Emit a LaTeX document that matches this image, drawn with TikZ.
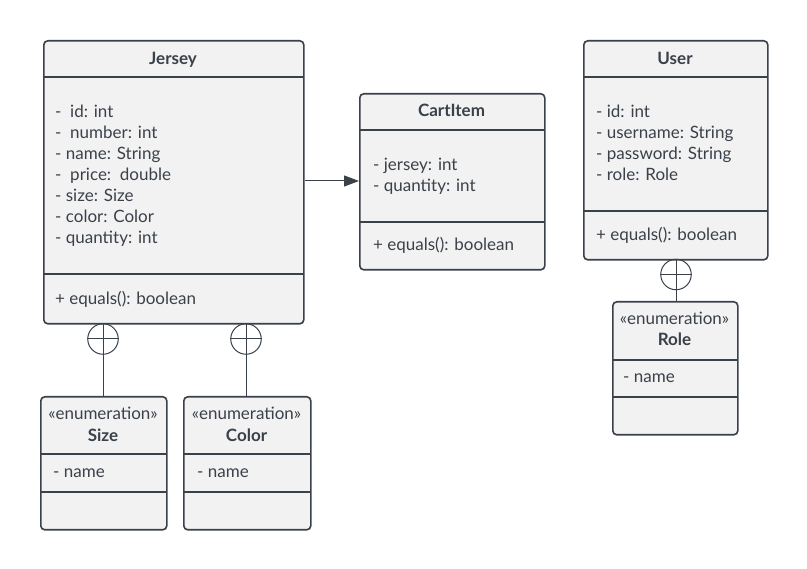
\documentclass[tikz,border=0pt]{standalone}
\usepackage{fontspec}
\setmainfont{Lato}
\usetikzlibrary{arrows.meta}
\definecolor{lineC}{HTML}{3A414A}
\definecolor{boxC}{HTML}{F2F2F2}
\definecolor{txtC}{HTML}{3A414A}
\begin{document}
\begin{tikzpicture}[x=1pt,y=-1pt,
  cls/.style={draw=lineC, fill=boxC, rounded corners=4pt, line width=1.6pt, anchor=north west, inner sep=0pt},
  sepl/.style={draw=lineC, line width=1.6pt},
  ttl/.style={font=\fontsize{17}{20}\selectfont\bfseries, text=txtC, inner sep=0pt, anchor=base},
  stereo/.style={font=\fontsize{17}{20}\selectfont, text=txtC, inner sep=0pt, anchor=base},
  attr/.style={font=\fontsize{17}{20}\selectfont, text=txtC, anchor=base west, inner sep=0pt},
  nest/.style={circle, draw=lineC, line width=1pt, minimum size=30.5pt, inner sep=0pt},
  link/.style={draw=lineC, line width=1pt}]
\useasboundingbox (0,0) rectangle (807,569);
\fill[white] (0,0) rectangle (807,569);

% Jersey
\node[cls, minimum width=260pt, minimum height=283pt] (jersey) at (43,40) {};
\draw[sepl] (43,77) -- (303,77);
\draw[sepl] (43,274) -- (303,274);
\node[ttl] (jt) at (173,65) {Jersey};
\node[attr] (j1) at (55,118) {-\ \ id: int};
\node[attr] (j2) at (55,139) {-\ \ number: int};
\node[attr] (j3) at (55,160) {- name: String};
\node[attr] (j4) at (55,181) {-\ \ price:\ \ double};
\node[attr] (j5) at (55,202) {- size: Size};
\node[attr] (j6) at (55,223) {- color: Color};
\node[attr] (j7) at (55,244) {- quantity: int};
\node[attr] (jm) at (55,305) {+ equals(): boolean};

% CartItem
\node[cls, minimum width=185pt, minimum height=176pt] (cart) at (359,93) {};
\draw[sepl] (359,130) -- (544,130);
\draw[sepl] (359,222) -- (544,222);
\node[ttl] (ct) at (451.5,117) {CartItem};
\node[attr] (c1) at (373,171) {- jersey: int};
\node[attr] (c2) at (373,192) {- quantity: int};
\node[attr] (cm) at (373,251) {+ equals(): boolean};

% User
\node[cls, minimum width=184pt, minimum height=219pt] (user) at (583,40) {};
\draw[sepl] (583,77) -- (767,77);
\draw[sepl] (583,211) -- (767,211);
\node[ttl] (ut) at (675,65) {User};
\node[attr] (u1) at (596,118) {- id: int};
\node[attr] (u2) at (596,139) {- username: String};
\node[attr] (u3) at (596,160) {- password: String};
\node[attr] (u4) at (596,181) {- role: Role};
\node[attr] (um) at (596,241) {+ equals(): boolean};

% Role
\node[cls, minimum width=125pt, minimum height=133pt] (role) at (612,301) {};
\draw[sepl] (612,360) -- (737,360);
\draw[sepl] (612,397) -- (737,397);
\node[stereo] (rs) at (674.5,325) {«enumeration»};
\node[ttl] (rt) at (674.5,346) {Role};
\node[attr] (r1) at (623,383) {- name};

% Size
\node[cls, minimum width=126pt, minimum height=133pt] (size) at (40,396) {};
\draw[sepl] (40,454) -- (166,454);
\draw[sepl] (40,492) -- (166,492);
\node[stereo] (ss) at (103,420) {«enumeration»};
\node[ttl] (st) at (103,442) {Size};
\node[attr] (s1) at (53,478) {- name};

% Color
\node[cls, minimum width=127pt, minimum height=133pt] (color) at (183,396) {};
\draw[sepl] (183,454) -- (310,454);
\draw[sepl] (183,492) -- (310,492);
\node[stereo] (cs) at (246.5,420) {«enumeration»};
\node[ttl] (cot) at (246.5,442) {Color};
\node[attr] (co1) at (197,478) {- name};

% nesting connectors
\node[nest] (n1) at (103,339) {};
\draw[link] (n1.north) -- (n1.south) (n1.west) -- (n1.east);
\draw[link] (n1.south) -- (n1.south |- size.north);
\node[nest] (n2) at (246,339) {};
\draw[link] (n2.north) -- (n2.south) (n2.west) -- (n2.east);
\draw[link] (n2.south) -- (n2.south |- color.north);
\node[nest] (n3) at (676,274.5) {};
\draw[link] (n3.north) -- (n3.south) (n3.west) -- (n3.east);
\draw[link] (n3.south) -- (n3.south |- role.north);

% association arrow
\draw[link, -{Triangle[length=15pt,width=11pt]}] (jersey.east |- 0,181) -- (cart.west |- 0,181);
\end{tikzpicture}
\end{document}
